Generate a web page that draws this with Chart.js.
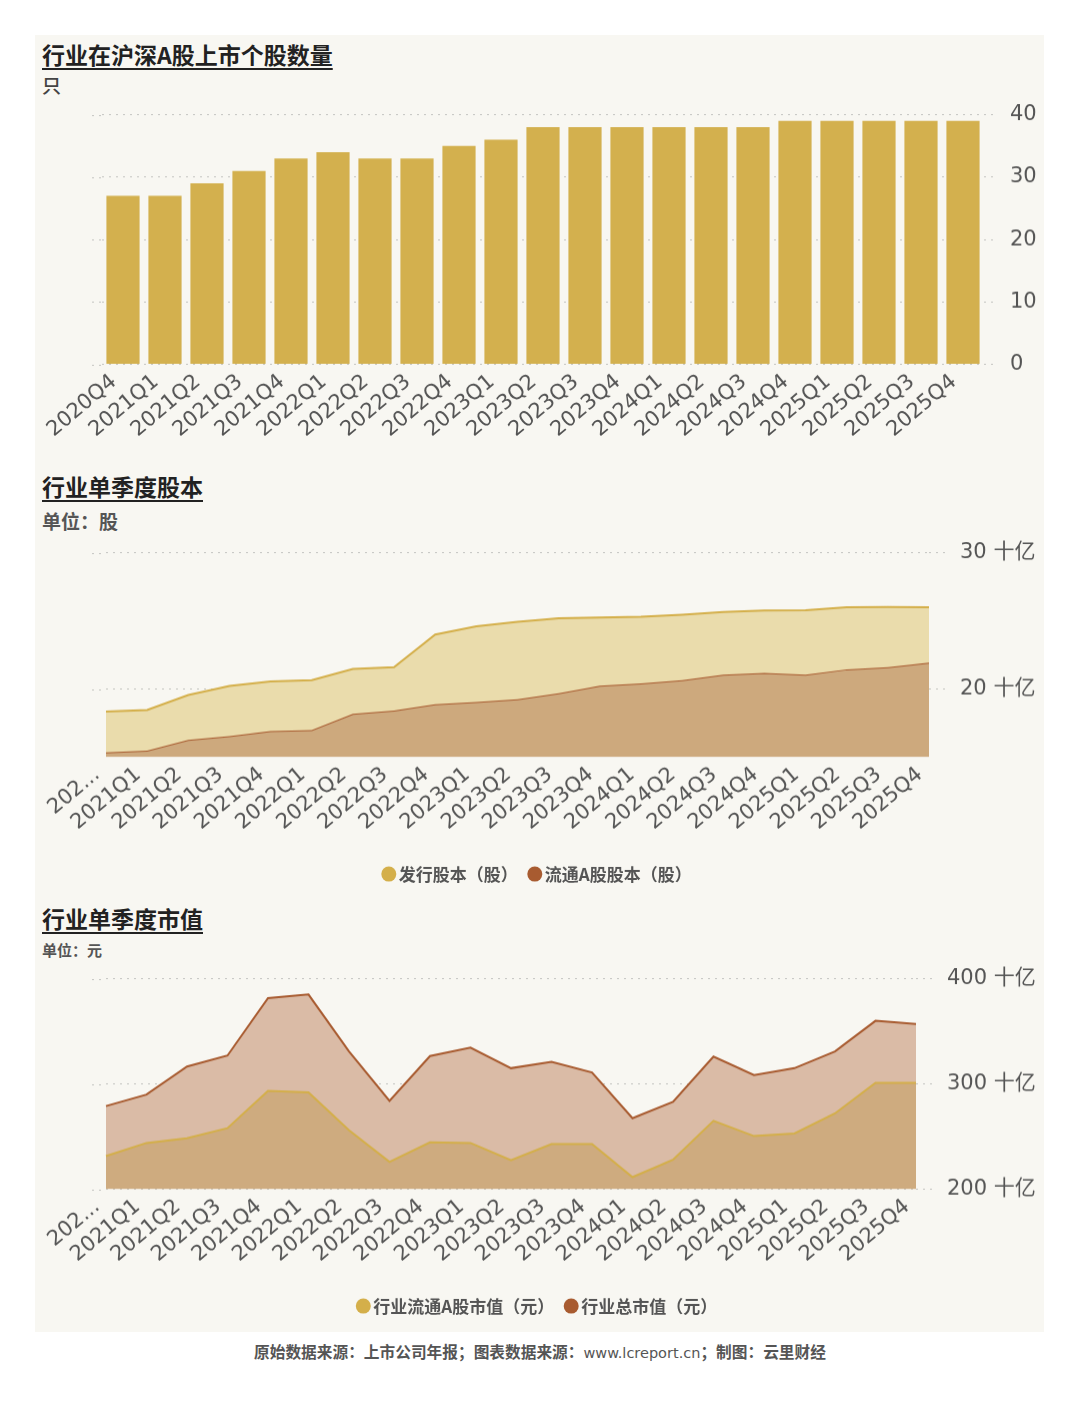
<!DOCTYPE html>
<html><head><meta charset="utf-8">
<script src="https://cdn.jsdelivr.net/npm/chart.js@4.4.1/dist/chart.umd.min.js"></script>
<style>
html,body{margin:0;padding:0;background:#fff;width:1080px;height:1410px;overflow:hidden;}
body{position:relative;font-family:"Noto Sans CJK SC",sans-serif;}
#card{position:absolute;left:35px;top:35px;width:1009px;height:1297px;background:#F8F7F2;}
.title{position:absolute;left:7px;font-size:23px;font-weight:700;color:#222;text-decoration:underline;text-decoration-thickness:2px;text-underline-offset:4px;line-height:1;white-space:nowrap;}
.unit{position:absolute;left:7px;color:#444;line-height:1;white-space:nowrap;}
.cw{position:absolute;left:0;width:1009px;}
#footer{position:absolute;left:0;top:1342px;width:1080px;text-align:center;font-size:15.7px;font-weight:700;color:#555;line-height:20px;}
#footer .url{font-family:"DejaVu Sans",sans-serif;font-weight:400;font-size:14.5px;}
</style></head>
<body>
<div id="card">
  <div class="title" style="top:8px;">行业在沪深A股上市个股数量</div>
  <div class="unit" style="top:40px;font-size:19px;font-weight:500;">只</div>
  <div class="cw" style="top:52.4px;height:351.6px;"><canvas id="c1"></canvas></div>

  <div class="title" style="top:440px;">行业单季度股本</div>
  <div class="unit" style="top:476px;font-size:19px;font-weight:700;color:#555;">单位：股</div>
  <div class="cw" style="top:490.4px;height:369.6px;"><canvas id="c2"></canvas></div>

  <div class="title" style="top:872px;">行业单季度市值</div>
  <div class="unit" style="top:907px;font-size:15px;font-weight:700;color:#555;">单位：元</div>
  <div class="cw" style="top:917.4px;height:374.6px;"><canvas id="c3"></canvas></div>
</div>
<div id="footer">原始数据来源：上市公司年报；图表数据来源：<span class="url">www.lcreport.cn</span>；制图：云里财经</div>

<script>
// ---------- data ----------
const quarters = ['2020Q4','2021Q1','2021Q2','2021Q3','2021Q4','2022Q1','2022Q2','2022Q3','2022Q4',
  '2023Q1','2023Q2','2023Q3','2023Q4','2024Q1','2024Q2','2024Q3','2024Q4','2025Q1','2025Q2','2025Q3','2025Q4'];
const listedCount = [27,27,29,31,33,34,33,33,35,36,38,38,38,38,38,38,39,39,39,39,39];
const countTicks = [0,10,20,30,40];

// shares, in 十亿 (billions)
const issuedShares = [18.36,18.46,19.57,20.22,20.55,20.65,21.47,21.61,24.0,24.6,24.94,25.2,25.25,25.3,25.45,25.65,25.76,25.78,26.0,26.02,26.0];
const floatShares  = [15.35,15.49,16.27,16.55,16.92,16.99,18.19,18.43,18.89,19.06,19.25,19.7,20.24,20.41,20.65,21.06,21.18,21.06,21.45,21.61,21.93];
const shareTicks = [20,30];

// market value, in 十亿元
const floatValue = [231.5,244,248.5,258,293.5,292,256,226,244.5,244,227.5,243,243,211.5,228,265,250.5,253,272,301,301];
const totalValue = [279,290,316.5,327,381.5,385,331,284,326.5,334.5,315,321,311,267.5,283,326,308.5,315,331,360,357];
const valueTicks = [200,300,400];

const seriesNames2 = ['发行股本（股）','流通A股股本（股）'];
const seriesNames3 = ['行业流通A股市值（元）','行业总市值（元）'];

// ---------- style ----------
const GRID = '#C4C4C0';
const DASH = [2,5];
const TICKFONT = {family:'"DejaVu Sans","Noto Sans CJK SC",sans-serif', size:21};
const LEGFONT = {family:'"Noto Sans CJK SC",sans-serif', size:17, weight:'bold'};
const YEL = '#D4AF4A', BRN = '#A85B30';

const gridExtend = {
  id:'gridExtend',
  beforeDatasetsDraw(chart, args, opts){
    const y = chart.scales.y, ctx = chart.ctx, a = chart.chartArea;
    ctx.save(); ctx.strokeStyle = GRID; ctx.lineWidth = 1; ctx.setLineDash(DASH);
    y.ticks.forEach(t => {
      const py = Math.round(y.getPixelForValue(t.value)) + 0.5;
      ctx.beginPath(); ctx.moveTo(opts.x, py); ctx.lineTo(a.left, py); ctx.stroke();
    });
    ctx.restore();
  }
};
Chart.register(gridExtend);

function yAxis(min, max, tickVals, width, tickLen, pad, fmt){
  return {
    position:'right', min, max,
    afterBuildTicks: s => { s.ticks = tickVals.map(v => ({value:v})); },
    afterFit: s => { s.width = width; },
    border:{display:false, dash:DASH},
    grid:{color:GRID, lineWidth:1, drawTicks:true, tickLength:tickLen, tickColor:GRID, tickBorderDash:DASH},
    ticks:{font:TICKFONT, color:'#555', padding:pad, callback: fmt}
  };
}
function leftSpacer(width){
  return {
    type:'linear', position:'left', display:true, min:0, max:1,
    afterFit: s => { s.width = width; },
    grid:{display:false, drawTicks:false}, border:{display:false}, ticks:{display:false}
  };
}
function xAxis(height, shortFirst, offset){
  return {
    offset,
    afterFit: s => { s.height = height; },
    grid:{display:false, drawTicks:false},
    border:{display:false},
    ticks:{font:TICKFONT, color:'#555', autoSkip:false, minRotation:40, maxRotation:40, padding:5, labelOffset:-9,
      callback: function(v, i){ const l = this.getLabelForValue(v); return (shortFirst && i === 0) ? '202...' : l; }}
  };
}
const legendCfg = {
  display:true, position:'bottom',
  labels:{usePointStyle:true, pointStyle:'circle', boxWidth:3, boxHeight:10.6, padding:15.5, font:LEGFONT, color:'#555',
    generateLabels: chart => Chart.defaults.plugins.legend.labels.generateLabels(chart).map(l => {
      const c = chart.data.datasets[l.datasetIndex].borderColor;
      return Object.assign(l, {fillStyle:c, strokeStyle:c, lineWidth:0});
    })}
};

// ---------- chart 1 ----------
new Chart(document.getElementById('c1'), {
  type:'bar',
  data:{labels:quarters, datasets:[{label:'个股数量', data:listedCount, backgroundColor:'#D3B04E', yAxisID:'y',
    categoryPercentage:1.0, barPercentage:0.79}]},
  options:{
    responsive:true, maintainAspectRatio:false, animation:false,
    layout:{padding:{left:0, top:0, right:0, bottom:0}},
    plugins:{legend:{display:false}, tooltip:{enabled:false}, gridExtend:{x:57}},
    scales:{
      x: xAxis(75, false, true),
      y: yAxis(0, 40, countTicks, 60, 11, 15, v => v),
      ySp: leftSpacer(67)
    }
  }
});

// ---------- chart 2 ----------
new Chart(document.getElementById('c2'), {
  type:'line',
  data:{labels:quarters, datasets:[
    {label:seriesNames2[0], data:issuedShares, yAxisID:'y', borderColor:YEL, backgroundColor:'#EADCAC', fill:'+1',
      borderWidth:2, pointRadius:0, tension:0},
    {label:seriesNames2[1], data:floatShares, yAxisID:'y', borderColor:BRN, backgroundColor:'#CDA97D', fill:'start',
      borderWidth:2, pointRadius:0, tension:0}
  ]},
  options:{
    responsive:true, maintainAspectRatio:false, animation:false,
    layout:{padding:{left:0, top:0, right:0, bottom:3}},
    plugins:{legend:legendCfg, tooltip:{enabled:false}, gridExtend:{x:57}},
    scales:{
      x: xAxis(92.5, true, false),
      y: yAxis(15, 30, shareTicks, 115, 16, 15, v => v + ' 十亿'),
      ySp: leftSpacer(71)
    }
  }
});

// ---------- chart 3 ----------
new Chart(document.getElementById('c3'), {
  type:'line',
  data:{labels:quarters, datasets:[
    {label:seriesNames3[0], data:floatValue, yAxisID:'y', borderColor:YEL, backgroundColor:'#CEAB7F', fill:'start',
      borderWidth:2, pointRadius:0, tension:0},
    {label:seriesNames3[1], data:totalValue, yAxisID:'y', borderColor:BRN, backgroundColor:'#DABBA6', fill:'start',
      borderWidth:2, pointRadius:0, tension:0}
  ]},
  options:{
    responsive:true, maintainAspectRatio:false, animation:false,
    layout:{padding:{left:0, top:0, right:0, bottom:3}},
    plugins:{legend:legendCfg, tooltip:{enabled:false}, gridExtend:{x:57}},
    scales:{
      x: xAxis(92.5, true, false),
      y: yAxis(200, 400, valueTicks, 128, 17, 14, v => v + ' 十亿'),
      ySp: leftSpacer(71)
    }
  }
});
</script>
</body></html>
